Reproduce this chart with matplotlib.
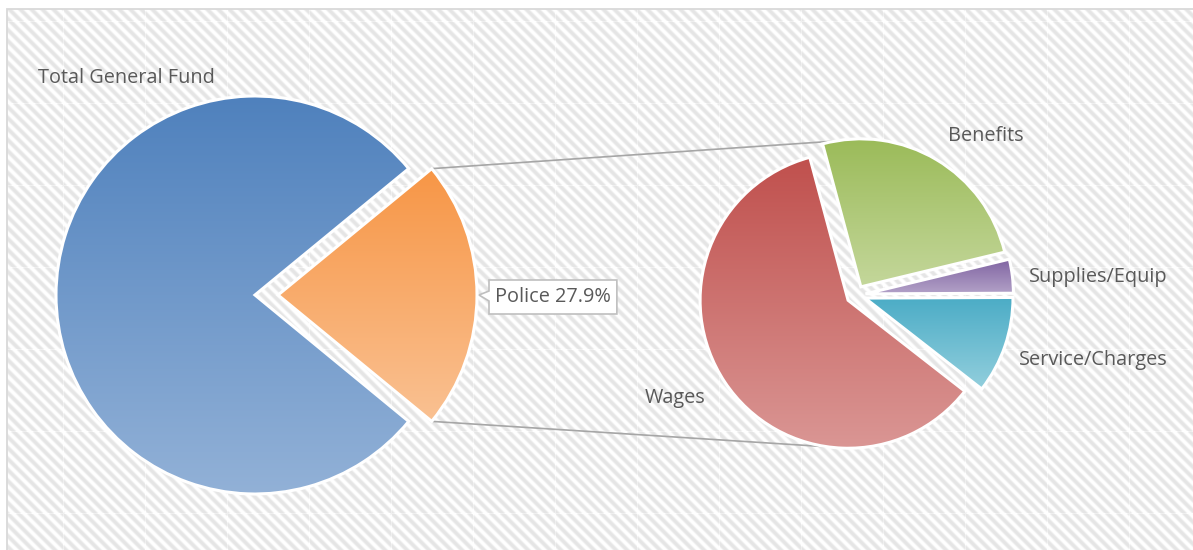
import numpy as np
import matplotlib
matplotlib.use("Agg")
import matplotlib.pyplot as plt
from matplotlib.colors import to_rgb
from matplotlib.patches import Rectangle, Polygon

# ---------------- data ----------------
fund_labels = ["Other", "Police"]
fund_values = [78.1, 21.9]
fund_label_text = "Police 27.9%"
fund_title = "Total General Fund"

police_labels = ["Benefits", "Supplies/Equip", "Service/Charges", "Wages"]
police_values = [25.4, 3.7, 10.6, 60.3]

# ---------------- style ----------------
W, H = 1193, 550
fund_top = ["#4f81bd", "#f79646"]
fund_bot = ["#92b1d7", "#fac192"]
police_top = ["#9bbb59", "#8064a2", "#4bacc6", "#c0504d"]
police_bot = ["#c4d79b", "#b3a2c8", "#93cfdd", "#da9694"]
text_col = "#595959"
FONT = "Open Sans"
FS = 14.3

fig = plt.figure(figsize=(W / 100, H / 100), dpi=100)
ax = fig.add_axes([0, 0, 1, 1])

# background stripes inside border
xx, yy = np.meshgrid(np.arange(W), np.arange(H))
P = 11.0
phase = ((xx - yy) % P) / P
s = 0.5 + 0.5 * np.cos(2 * np.pi * phase)
val = 1.0 - 0.10 * np.clip(s * 1.4 - 0.2, 0, 1)
# faint tile seams
seam = ((xx % 82) == 63) | ((yy % 82) == 21)
val = np.where(seam, np.minimum(1.0, val + 0.04), val)
bx0, by0 = 7, 9
mask = (xx >= bx0) & (yy >= by0)
val = np.where(mask, val, 1.0)
bg = np.dstack([val, val, val])
ax.imshow(bg, extent=[0, W, 0, H], origin="upper", zorder=0, interpolation="nearest")
ax.add_patch(Rectangle((bx0, -5), W, H - by0 + 5, fill=False, edgecolor="#d9d9d9",
                       linewidth=1.3, zorder=1))


def grad_fill(wedges, tops, bots):
    for w, c1, c2 in zip(wedges, tops, bots):
        ext = w.get_path().get_extents()
        n = 256
        t = np.linspace(0, 1, n)[:, None]
        a, b = np.array(to_rgb(c1)), np.array(to_rgb(c2))
        img = (b[None, :] * (1 - t) + a[None, :] * t)[:, None, :]
        im = ax.imshow(img, extent=[ext.x0, ext.x1, ext.y0, ext.y1], origin="lower",
                       interpolation="bilinear", zorder=2, aspect="auto")
        im.set_clip_path(w)
        w.set_facecolor("none")
        w.set_edgecolor("white")
        w.set_linewidth(2.2)
        w.set_zorder(3)


# left pie
c1 = (255, H - 295)
R1 = 199
police_share = fund_values[1] / sum(fund_values) * 360
wl, _ = ax.pie(fund_values[::-1], center=c1, radius=R1, startangle=-police_share / 2,
               explode=[23, 0], counterclock=True)
wl = wl[::-1]
grad_fill(wl, fund_top, fund_bot)

# right pie
c2 = (856, H - 295)
R2 = 148
wr, _ = ax.pie(police_values, center=c2, radius=R2, startangle=105,
               counterclock=False, explode=[9.5] * 4)
grad_fill(wr, police_top, police_bot)

ax.set_xlim(0, W)
ax.set_ylim(0, H)
ax.set_aspect("equal")
ax.axis("off")

# connector lines
pw = wl[1]
pcx, pcy = pw.center
t1, t2 = np.deg2rad(pw.theta1), np.deg2rad(pw.theta2)
top_start = (pcx + R1 * np.cos(t2), pcy + R1 * np.sin(t2))
bot_start = (pcx + R1 * np.cos(t1), pcy + R1 * np.sin(t1))
bcx, bcy = wr[0].center
wcx, wcy = wr[3].center
top_end = (bcx + R2 * np.cos(np.deg2rad(100)), bcy + R2 * np.sin(np.deg2rad(100)))
bot_end = (wcx + R2 * np.cos(np.deg2rad(262)), wcy + R2 * np.sin(np.deg2rad(262)))
for a, b in [(top_start, top_end), (bot_start, bot_end)]:
    ax.plot([a[0], b[0]], [a[1], b[1]], color="#a6a6a6", linewidth=1.2, zorder=1.5,
            solid_capstyle="butt")

# texts
tk = dict(fontfamily=FONT, fontsize=FS, color=text_col)
ax.text(38, H - 78, fund_title, ha="left", va="center", **tk)

# police callout
lx = pcx + R1 + 12
ly = pcy - 2
t = ax.text(lx + 6, ly, fund_label_text, ha="left", va="center", zorder=6, **tk)
fig.canvas.draw()
bb = t.get_window_extent().transformed(ax.transData.inverted())
bx1 = lx
bx2 = bb.x1 + 6
byl = ly - 17
byh = ly + 17
tipx = pcx + R1 + 2
ax.add_patch(Polygon([(bx1, byh), (bx2, byh), (bx2, byl), (bx1, byl), (bx1, ly - 4),
                      (tipx, ly + 2), (bx1, ly + 6)], closed=True,
                     facecolor="white", edgecolor="#bfbfbf", linewidth=1.2, zorder=5))

ax.text(948, H - 136, police_labels[0], ha="left", va="center", **tk)
ax.text(1029, H - 277, police_labels[1], ha="left", va="center", **tk)
ax.text(1019, H - 360, police_labels[2], ha="left", va="center", **tk)
ax.text(645, H - 398, police_labels[3], ha="left", va="center", **tk)

fig.savefig("out.png", dpi=100)
